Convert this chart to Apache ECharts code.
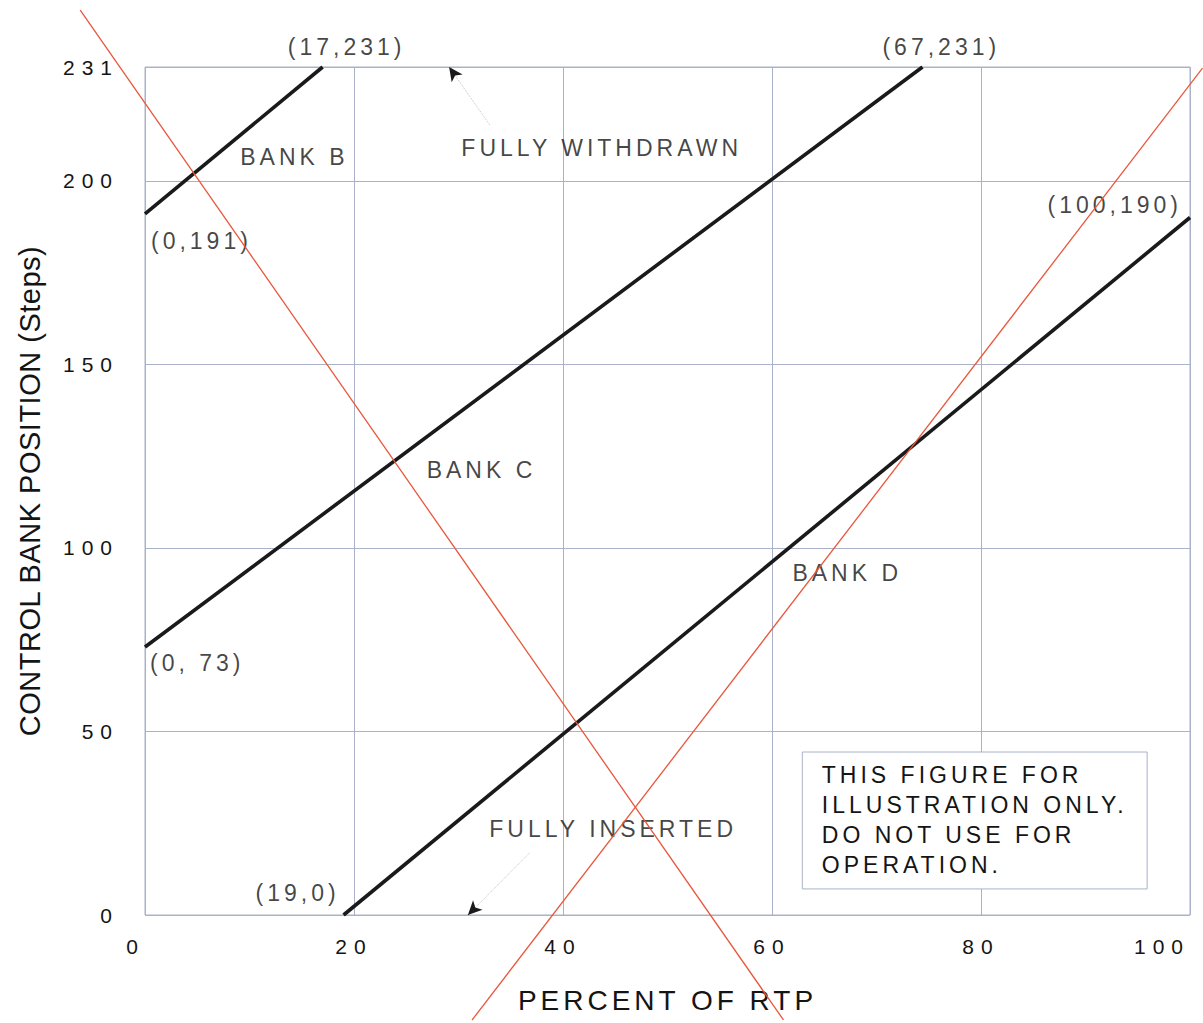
<!DOCTYPE html>
<html lang="en">
<head>
<meta charset="UTF-8">
<title>Control bank position vs percent of RTP</title>
<script src="https://cdn.jsdelivr.net/npm/echarts@6/dist/echarts.min.js"></script>
<style>
  body { margin: 0; background: #fff; }
  #root { width: 1203px; height: 1023px; }
  /* the scanned figure uses widely spaced lettering */
  #root text { letter-spacing: 4px; }
  #root text[style*="21px"] { letter-spacing: 7px; }
  #root text[style*="29px"] { letter-spacing: 0.5px; }
</style>
</head>
<body>
<div id="root"></div>
<script>
// bank lines, [percent RTP, steps]
var bankB = [[0, 191], [17, 231]];
var bankC = [[0, 73], [74.4, 231]];
var bankD = [[19, 0], [100, 190]];
// red strike-through lines drawn over the scan (run past the plot)
var strike1 = [[-6.2, 246.5], [61.1, -28.6]];
var strike2 = [[31.3, -28.6], [101.2, 230.7]];
var xTicks = [0, 20, 40, 60, 80, 100];
var yTicks = [0, 50, 100, 150, 200, 231];

// text annotations: [x, y, text]
var notes = [
  [19.3, 236.4, '(17,231)'],
  [76.2, 236.4, '(67,231)'],
  [14.3, 206.5, 'BANK B'],
  [43.7, 208.9, 'FULLY WITHDRAWN'],
  [5.4, 183.6, '(0,191)'],
  [92.8, 193.4, '(100,190)'],
  [32.2, 121.2, 'BANK C'],
  [67.2, 93.2, 'BANK D'],
  [5.0, 68.6, '(0, 73)'],
  [44.8, 23.4, 'FULLY INSERTED'],
  [14.6, 6.0, '(19,0)']
];
// arrows: [tail, tip]
var arrows = [
  [[33.0, 215.2], [29.1, 231]],
  [[36.8, 16.9], [30.9, 0]]
];
var noteBox = [[62.9, 44.4], [95.9, 7.1]];
var noteText = 'THIS FIGURE FOR\nILLUSTRATION ONLY.\nDO NOT USE FOR\nOPERATION.';

var FONT = "'Liberation Sans', Arial, sans-serif";
var INK = '#141414';
var GRIDC = '#a9b2c9';
var RED = '#e8573c';

var chart = echarts.init(document.getElementById('root'), null, { renderer: 'svg' });

function bankSeries(data) {
  return {
    type: 'line', data: data, symbol: 'none', silent: true,
    lineStyle: { color: '#1a1a1a', width: 3.6 }
  };
}

// faint dotted shaft plus a short dark segment carrying the arrow head
var arrowLines = [];
arrows.forEach(function (a) {
  var tail = a[0], tip = a[1];
  var near = [tip[0] + (tail[0] - tip[0]) * 0.08, tip[1] + (tail[1] - tip[1]) * 0.08];
  arrowLines.push([{ coord: tail, symbol: 'none', lineStyle: { color: '#c4c4c4', type: 'dotted', width: 1 } },
                   { coord: tip, symbol: 'none' }]);
  arrowLines.push([{ coord: near, symbol: 'none', lineStyle: { color: '#1a1a1a', width: 1 } },
                   { coord: tip, symbol: 'arrow', symbolSize: [10, 14] }]);
});

chart.setOption({
  animation: false,
  backgroundColor: '#fff',
  textStyle: { fontFamily: FONT },
  grid: {
    left: 145, right: 13, top: 67, bottom: 108,
    show: true, borderColor: GRIDC, borderWidth: 1,
    outerBoundsMode: 'none'
  },
  xAxis: {
    type: 'value', min: 0, max: 100, interval: 20,
    name: 'PERCENT OF RTP', nameLocation: 'middle', nameGap: 71,
    nameTextStyle: { fontSize: 28, color: INK, fontFamily: FONT },
    axisLine: { show: false }, axisTick: { show: false },
    axisLabel: {
      fontSize: 21, color: INK, margin: 21, customValues: xTicks,
      alignMinLabel: 'right', alignMaxLabel: 'right'
    },
    splitLine: { lineStyle: { color: GRIDC, width: 1 } }
  },
  yAxis: {
    type: 'value', min: 0, max: 231, interval: 50,
    name: 'CONTROL BANK POSITION (Steps)', nameLocation: 'middle', nameGap: 101,
    nameTextStyle: { fontSize: 29, color: INK, fontFamily: FONT },
    axisLine: { show: false }, axisTick: { show: false },
    axisLabel: { fontSize: 21, color: INK, margin: 26, customValues: yTicks },
    splitLine: { lineStyle: { color: GRIDC, width: 1 } }
  },
  series: [
    bankSeries(bankB),
    bankSeries(bankC),
    bankSeries(bankD),
    {
      type: 'scatter', data: notes, symbolSize: 0, clip: false, silent: true,
      label: {
        show: true, position: 'inside', color: INK, fontSize: 23, fontFamily: FONT,
        formatter: function (p) { return p.data[2]; }
      },
      markArea: {
        silent: true,
        itemStyle: { color: '#fff', borderColor: GRIDC, borderWidth: 1 },
        label: {
          show: true, position: 'insideTopLeft', distance: 0, padding: [8, 0, 0, 20],
          color: INK, fontSize: 23, lineHeight: 30, fontFamily: FONT
        },
        data: [[{ coord: noteBox[0], name: noteText }, { coord: noteBox[1] }]]
      },
      markLine: {
        silent: true, animation: false,
        label: { show: false },
        data: arrowLines
      }
    }
  ]
});

// the strike lines leave the plot area, so place them through the axes' scale
function toPx(p) { return chart.convertToPixel({ gridIndex: 0 }, p); }
chart.setOption({
  graphic: [strike1, strike2].map(function (s) {
    var a = toPx(s[0]), b = toPx(s[1]);
    return {
      type: 'line', silent: true, z: 100,
      shape: { x1: a[0], y1: a[1], x2: b[0], y2: b[1] },
      style: { stroke: RED, lineWidth: 1.3 }
    };
  })
});
</script>
</body>
</html>
